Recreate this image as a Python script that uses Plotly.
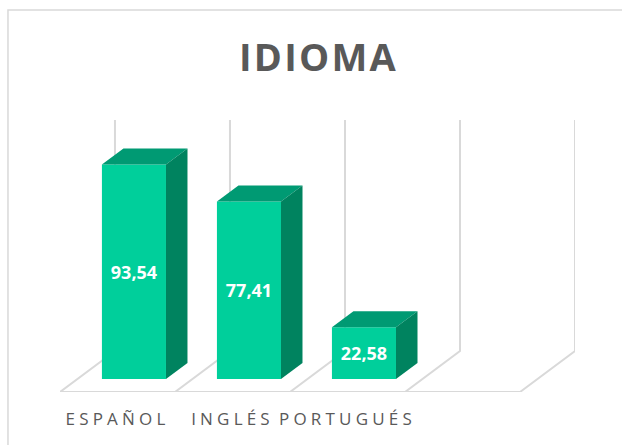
"""Idioma chart: flat Plotly bars with hand-built 3D faces."""

import plotly.graph_objects as go

categories = ["ESPAÑOL", "INGLÉS", "PORTUGUÉS"]
values = [93.54, 77.41, 22.58]
slots = [0, 1, 2, 3, 4]

FONT = "Open Sans, sans-serif"
FRONT = "#00CF9B"
TOP = "#009A73"
SIDE = "#00835F"
WALL = "#D9D9D9"
TEXT = "#595959"

# one category is 115 px wide, one value unit about 2.29 px
BAR_WIDTH = 0.557
BAR_SHIFT = 0.143
DEPTH_X = 0.187
DEPTH_Y = 7.0
FLOOR_X = 0.478
FLOOR_FRONT = -5.7
FLOOR_BACK = 12.2
WALL_TOP = 113.0

fig = go.Figure()

bar_x = [i + BAR_SHIFT for i in range(len(values))]

fig.add_trace(go.Bar(
    x=bar_x, y=values, width=BAR_WIDTH,
    marker=dict(color=FRONT, line=dict(width=0)),
    texttemplate="%{y:.2f}", textposition="inside",
    insidetextanchor="middle", textangle=0,
    textfont=dict(family=FONT, size=18, color="white", weight="bold"),
    cliponaxis=False,
))

# top and side faces follow each bar's value
for x, v in zip(bar_x, values):
    l, r = x - BAR_WIDTH / 2, x + BAR_WIDTH / 2
    fig.add_trace(go.Scatter(
        x=[l, r, r + DEPTH_X, l + DEPTH_X, l],
        y=[v, v, v + DEPTH_Y, v + DEPTH_Y, v],
        mode="lines", fill="toself", fillcolor=TOP,
        line=dict(width=0), hoverinfo="skip", cliponaxis=False,
    ))
    fig.add_trace(go.Scatter(
        x=[r, r + DEPTH_X, r + DEPTH_X, r, r],
        y=[0, DEPTH_Y, v + DEPTH_Y, v, 0],
        mode="lines", fill="toself", fillcolor=SIDE,
        line=dict(width=0), hoverinfo="skip", cliponaxis=False,
    ))

# back wall lines and floor diagonals sit behind the bars
wall_line = dict(color=WALL, width=2)
shapes = []
for s in slots:
    left = s - 0.5
    shapes.append(dict(
        type="path", xref="x", yref="y", layer="below", line=wall_line,
        path=f"M {left} {FLOOR_FRONT} L {left + FLOOR_X} {FLOOR_BACK} L {left + FLOOR_X} {WALL_TOP}",
    ))
shapes.append(dict(
    type="line", xref="x", yref="y", layer="below", line=wall_line,
    x0=slots[0] - 0.5, x1=slots[-1] - 0.5, y0=FLOOR_FRONT, y1=FLOOR_FRONT,
))
# outer chart frame, only left and top edges are in view
shapes.append(dict(
    type="path", xref="paper", yref="paper", layer="below",
    path="M -0.101 -0.2 L -0.101 1.404 L 1.1 1.404",
    line=dict(color="#D9D9D9", width=1.5),
))

fig.update_layout(
    width=622, height=445,
    margin=dict(l=60, r=47, t=120, b=53),
    paper_bgcolor="white", plot_bgcolor="white",
    showlegend=False, separators=",.",
    title=dict(
        text="IDIOMA", x=0.512, xanchor="center", y=0.87, yanchor="middle",
        font=dict(family=FONT, size=38, color=TEXT, weight="bold"),
    ),
    xaxis=dict(
        range=[-0.5, 3.978], showgrid=False, zeroline=False, showline=False,
        tickmode="array", tickvals=list(range(len(categories))), ticktext=categories,
        ticks="", ticklabelstandoff=15,
        tickfont=dict(family=FONT, size=17, color=TEXT),
    ),
    yaxis=dict(range=[FLOOR_FRONT, WALL_TOP], visible=False),
    shapes=shapes,
)

fig.write_html(
    "out.html",
    config=dict(displayModeBar=False),
    post_script=(
        "document.body.style.margin = '0';"
        "document.querySelectorAll('.xtick text').forEach(t => t.style.letterSpacing = '4.2px');"
        "document.querySelectorAll('.gtitle').forEach(t => t.style.letterSpacing = '2.2px');"
    ),
)
